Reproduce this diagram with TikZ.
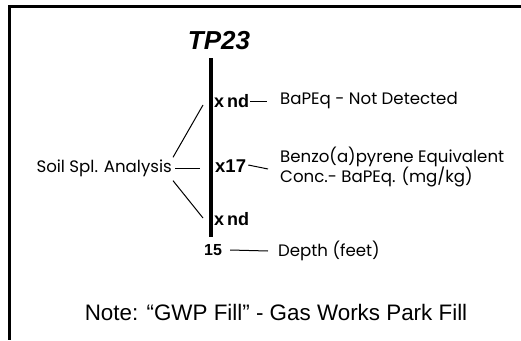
\documentclass[tikz,border=0pt]{standalone}
\usepackage{fontspec}
\setmainfont{Liberation Sans}
\newfontfamily\geo{Poppins}
\usetikzlibrary{positioning}

\begin{document}
\begin{tikzpicture}[x=1pt,y=-1pt,
  lbl/.style={font=\geo\fontsize{16.6}{19}\selectfont,inner sep=0pt,align=left},
  val/.style={font=\bfseries\fontsize{18}{20}\selectfont,inner sep=0pt},
  tick/.style={line width=1pt},
  frame/.style={line width=3pt}]
 \useasboundingbox (0,0) rectangle (521,340);
 % frame, top and left only
 \draw[frame] (521,6) -- (9.5,6) -- (9.5,340);
 \node[font=\bfseries\itshape\fontsize{26}{28}\selectfont,inner sep=0pt] (title) at (219,41) {TP23};
 % boring log bar
 \coordinate (bartop) at (211,58);
 \coordinate (barbot) at (211,237);
 \draw[line width=4pt] (bartop) -- (barbot);
 \node[val,anchor=west] (nd1) at (214,101) {x\,nd};
 \node[val,anchor=west,font=\bfseries\fontsize{18.5}{20}\selectfont] (c17) at (215,166) {x17};
 \node[val,anchor=west] (nd2) at (214,219) {x\,nd};
 \node[val,anchor=west,font=\bfseries\fontsize{16}{18}\selectfont] (d15) at (204,250) {15};
 \node[lbl,anchor=west] (notdet) at (280,101) {BaPEq - Not Detected};
 \node[lbl,anchor=west] (bapeq) at (280,167) {Benzo(a)pyrene Equivalent\\Conc.- BaPEq. (mg/kg)};
 \node[lbl,anchor=west] (depth) at (278,251) {Depth (feet)};
 \node[lbl,anchor=east] (soil) at (172,168) {Soil Spl. Analysis};
 \coordinate (up) at (203,105);
 \coordinate (mid) at (200,168);
 \coordinate (low) at (203,218);
 \draw[tick] (soil.north east)++(1,-2) -- (up);
 \draw[tick] (soil.east)++(3,0) -- (mid);
 \draw[tick] (soil.south east)++(1,4) -- (low);
 \draw[tick] (nd1.east)++(1,0) -- ([xshift=-13pt]notdet.west);
 \draw[tick] (c17.east)++(2,-1) -- ([xshift=-12pt,yshift=-2pt]bapeq.west);
 \draw[tick] (d15.east)++(8,0) -- ([xshift=-10pt]depth.west);
 \node[font=\fontsize{22.4}{24}\selectfont,inner sep=0pt] (note) at (276,312) {Note: “GWP Fill” - Gas Works Park Fill};
\end{tikzpicture}
\end{document}
